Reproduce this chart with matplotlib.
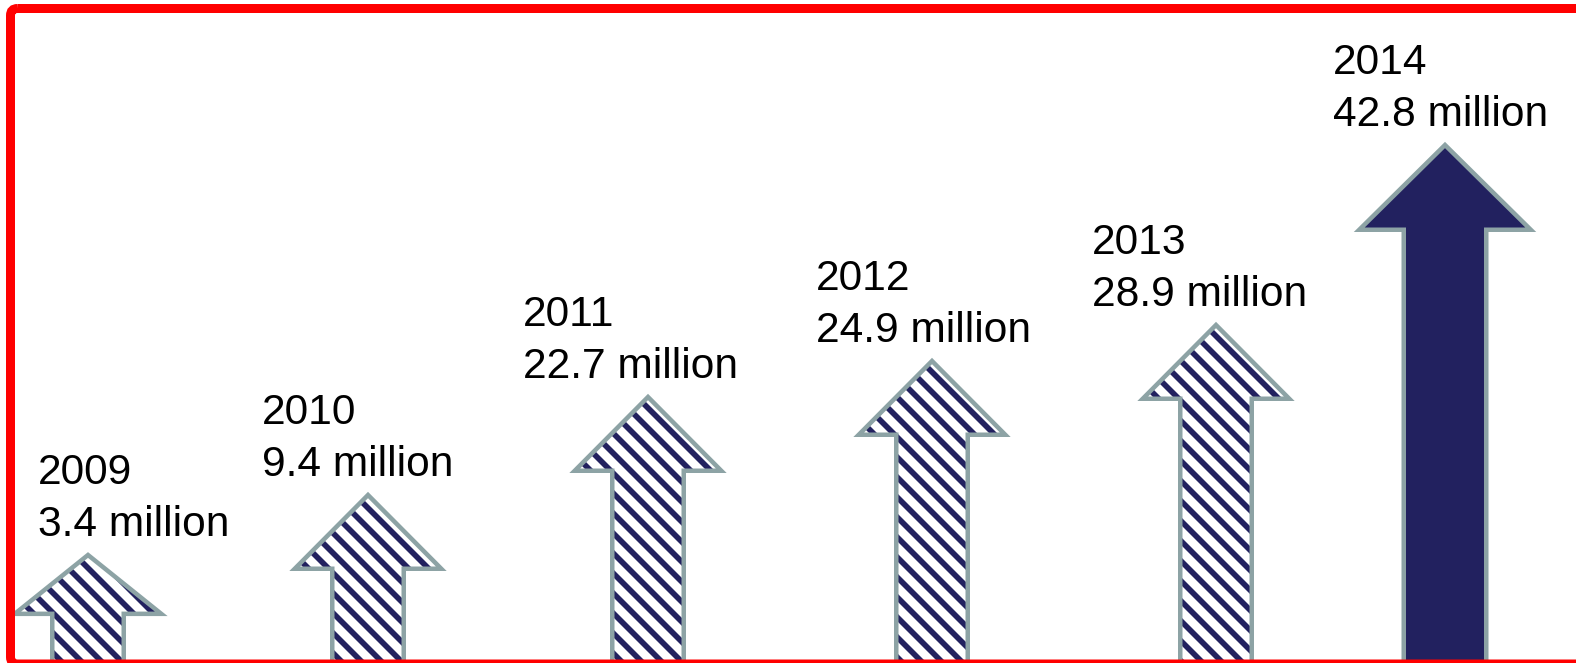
import matplotlib
matplotlib.use("Agg")
import matplotlib.pyplot as plt
from matplotlib.patches import Polygon, FancyBboxPatch

# ---- data ----
years = ["2009", "2010", "2011", "2012", "2013", "2014"]
values_millions = [3.4, 9.4, 22.7, 24.9, 28.9, 42.8]
value_labels = [f"{v} million" for v in values_millions]
# visual height of each arrow tip above the bottom edge (pixels of the graphic)
arrow_tip_height = [111, 171, 269, 305, 341, 521]

# ---- layout / style ----
W, H = 1576, 663
DPI = 120
NAVY = "#22215f"
GRAY = "#8da3a5"
RED = "#ff0000"

centers = [88, 368, 648, 932, 1216, 1445]
label_dx = [-50, -106, -125, -116, -124, -112]
highlight = [False, False, False, False, False, True]
bottom = H

plt.rcParams["hatch.linewidth"] = 3.4
fig = plt.figure(figsize=(W / DPI, H / DPI), dpi=DPI)
ax = fig.add_axes([0, 0, 1, 1])
ax.set_xlim(0, W)
ax.set_ylim(H, 0)
ax.axis("off")

lw_px = 4.5
lw_pt = lw_px * 72 / DPI
inset = lw_px / 2

for i, (cx, h) in enumerate(zip(centers, arrow_tip_height)):
    big = highlight[i]
    shaft_half = (43.5 if big else 38) - inset
    wing_half = (88 if big else 75.5) - inset
    tip_y = bottom - h + 3
    head = (87 if big else 76) - inset
    head = min(head, 0.53 * h)
    wing_y = tip_y + head
    pts = [
        (cx - shaft_half, bottom + 10),
        (cx - shaft_half, wing_y),
        (cx - wing_half, wing_y),
        (cx, tip_y),
        (cx + wing_half, wing_y),
        (cx + shaft_half, wing_y),
        (cx + shaft_half, bottom + 10),
    ]
    if big:
        ax.add_patch(Polygon(pts, closed=True, facecolor=NAVY, edgecolor=GRAY,
                             linewidth=lw_pt, joinstyle="miter", zorder=2))
    else:
        ax.add_patch(Polygon(pts, closed=True, facecolor="white", edgecolor=NAVY,
                             linewidth=0, hatch="\\\\", zorder=2))
        ax.add_patch(Polygon(pts, closed=True, facecolor="none", edgecolor=GRAY,
                             linewidth=lw_pt, joinstyle="miter", zorder=3))
    tx = cx + label_dx[i]
    base1 = tip_y - 71
    base2 = tip_y - 19
    ax.text(tx, base1, years[i], fontsize=25.5, family="Liberation Sans",
            color="black", ha="left", va="baseline", zorder=5)
    ax.text(tx, base2, value_labels[i], fontsize=25.5, family="Liberation Sans",
            color="black", ha="left", va="baseline", zorder=5)

# red frame
frame_lw = 9
ax.add_patch(FancyBboxPatch((10.5, 8.5), W + 50, 655.5, boxstyle="round,pad=0,rounding_size=7",
                            facecolor="none", edgecolor=RED,
                            linewidth=frame_lw * 72 / DPI, zorder=6, clip_on=False))

fig.savefig("out.png", dpi=DPI, facecolor="white")
